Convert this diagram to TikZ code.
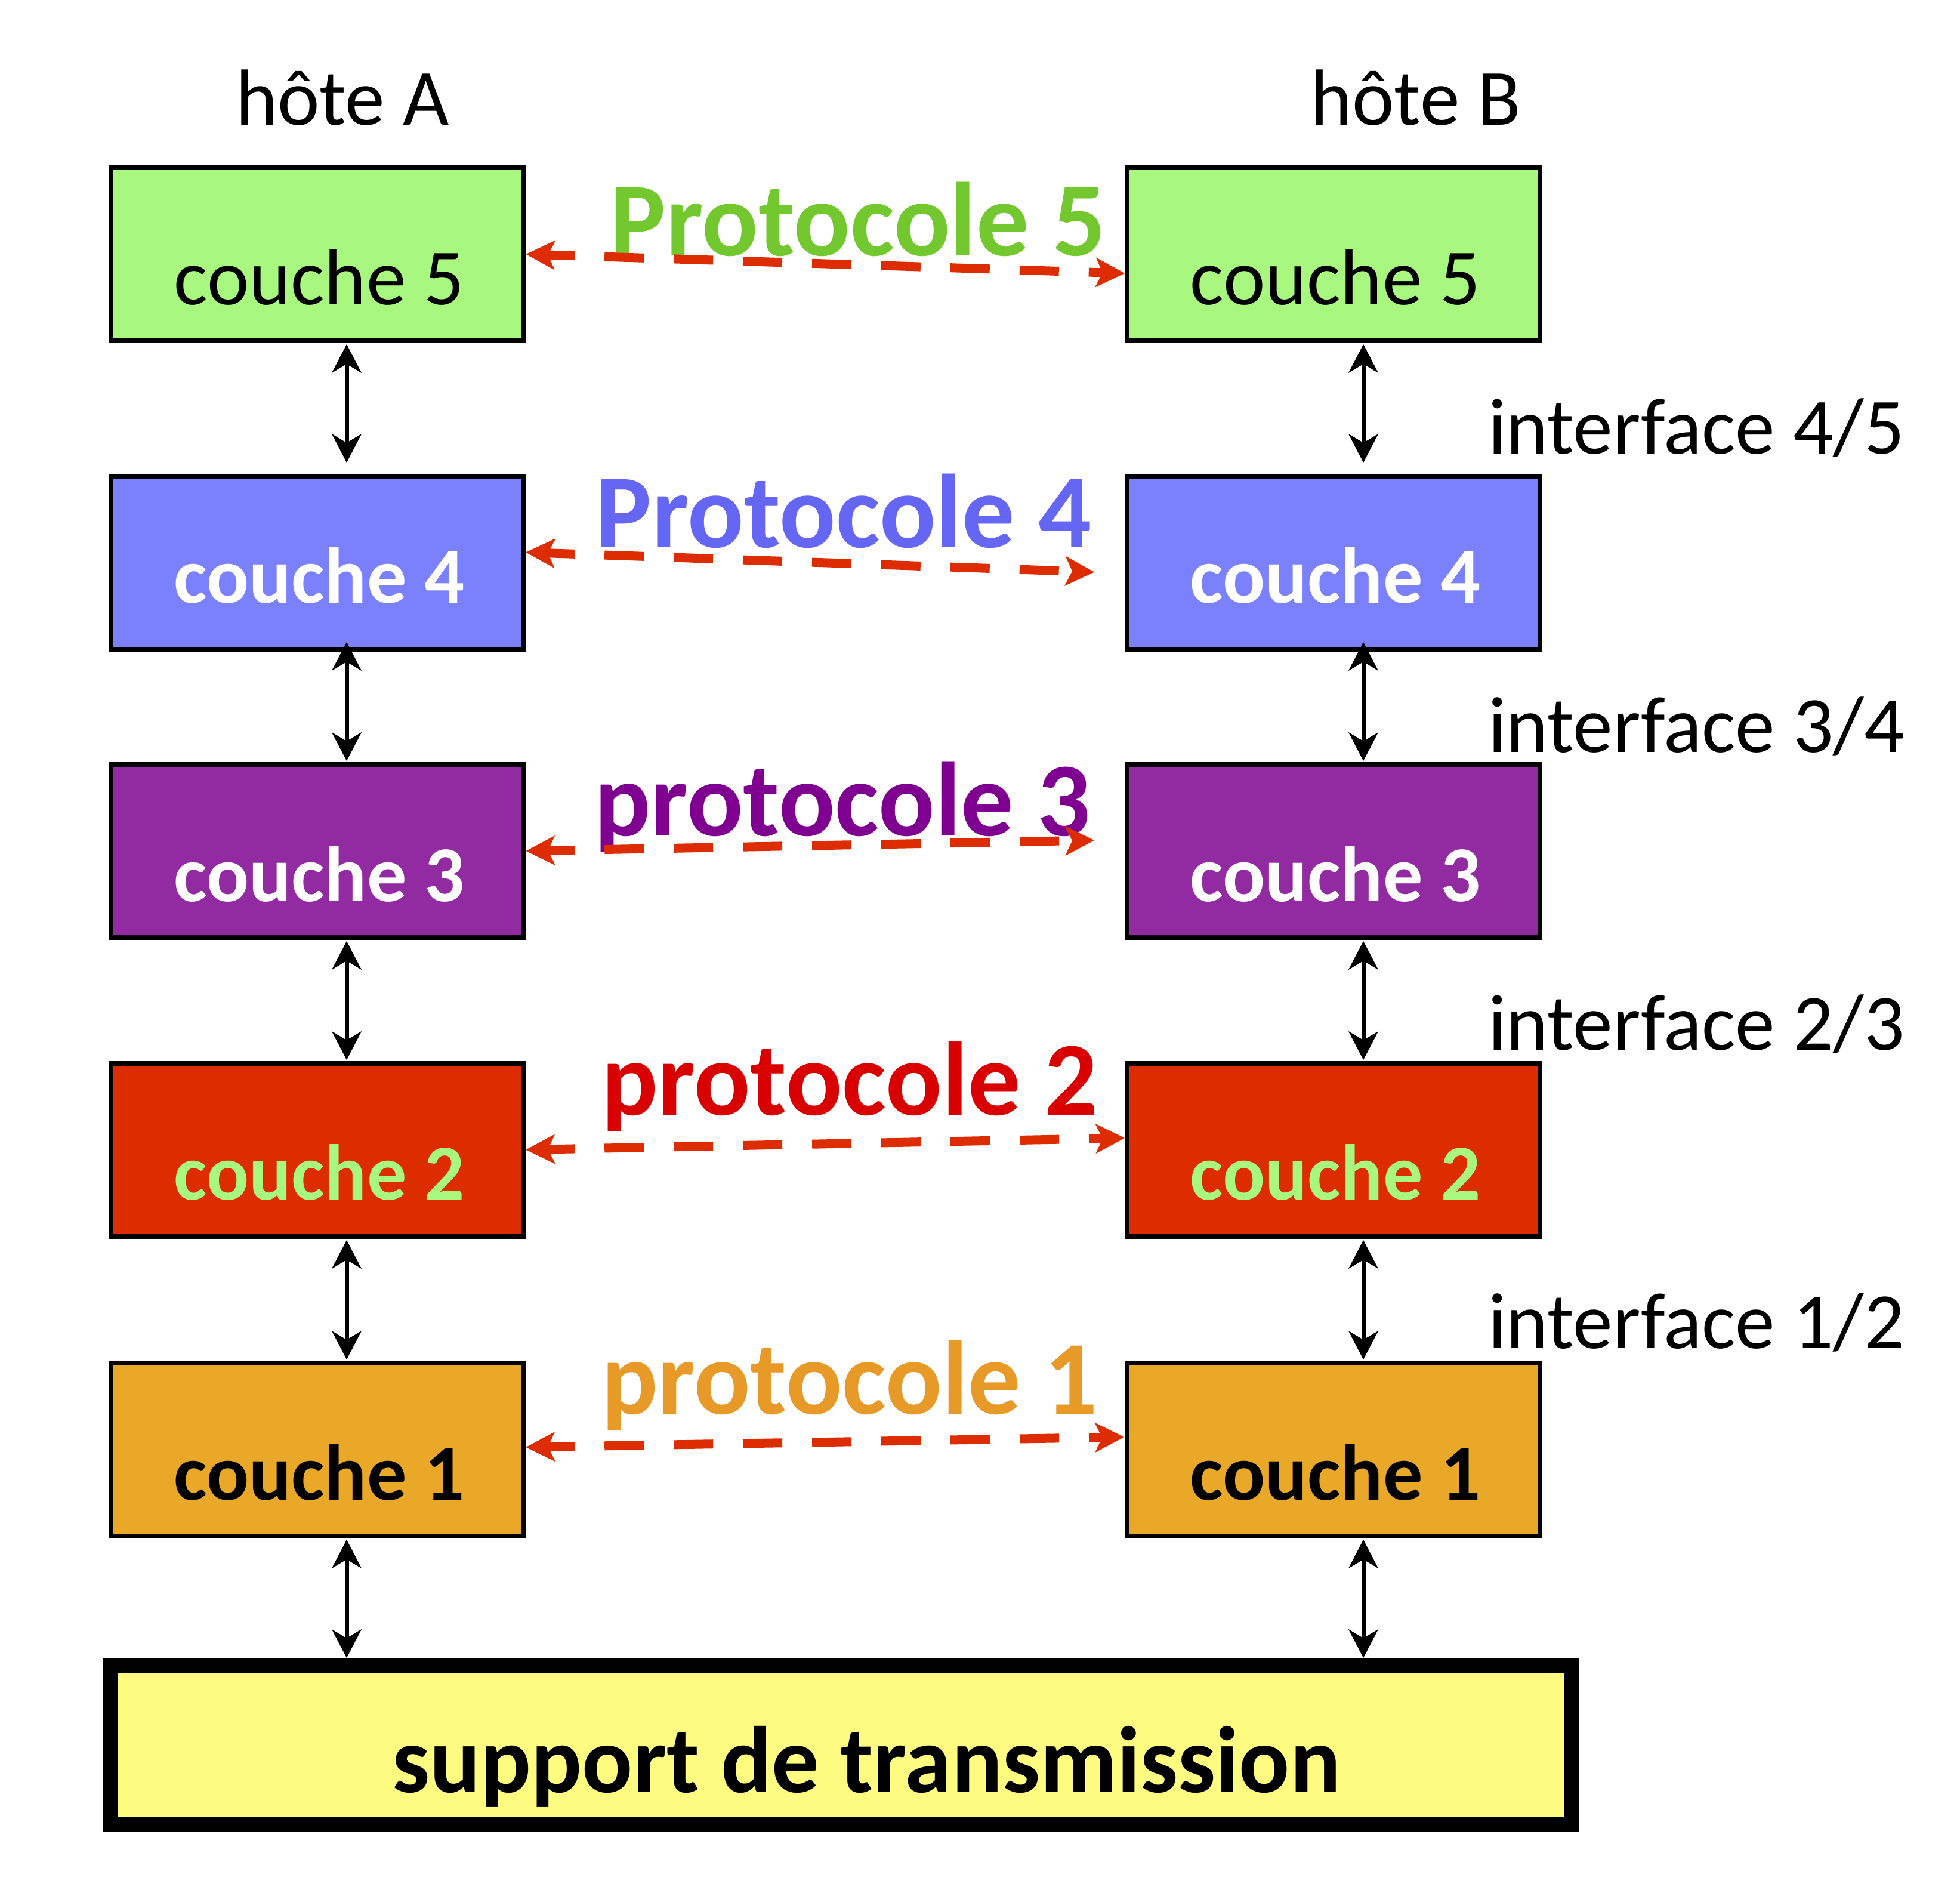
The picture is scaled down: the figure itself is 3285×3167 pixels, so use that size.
\documentclass[tikz,border=0pt]{standalone}
\usepackage{fontspec}
\setmainfont{Carlito}
\usetikzlibrary{arrows.meta}
\definecolor{fgreen}{RGB}{168,248,128}
\definecolor{fblue}{RGB}{123,128,252}
\definecolor{fpurple}{RGB}{146,43,162}
\definecolor{fred}{RGB}{221,44,0}
\definecolor{forange}{RGB}{234,168,40}
\definecolor{fyellow}{RGB}{253,252,128}
\definecolor{tgreen}{RGB}{114,200,46}
\definecolor{tblue}{RGB}{102,102,245}
\definecolor{tpurple}{RGB}{127,0,144}
\definecolor{tred}{RGB}{216,0,0}
\definecolor{torange}{RGB}{232,154,40}
\definecolor{pred}{RGB}{221,44,0}
\tikzset{
  box/.style={draw=black, line width=8pt, minimum width=691.5pt, minimum height=290pt, inner sep=0pt, outer sep=4pt},
  lbl/.style={anchor=base, inner sep=0pt, font=\fontsize{133.5pt}{160pt}\selectfont},
  lblb/.style={anchor=base, inner sep=0pt, font=\fontsize{132.5pt}{160pt}\selectfont\bfseries},
  ilbl/.style={anchor=base west, inner sep=0pt, font=\fontsize{133.5pt}{160pt}\selectfont},
  proto/.style={anchor=base, inner sep=0pt, font=\fontsize{176pt}{210pt}\selectfont\bfseries},
  vtip/.tip={Stealth[length=48pt,width=50pt,inset=15pt,line width=1pt]},
  rtip/.tip={Stealth[length=49pt,width=50pt,inset=12pt,line width=1pt]},
  vlink/.style={draw=black, line width=7pt, vtip-vtip},
  plink/.style={draw=pred, line width=15pt, dash pattern=on 66pt off 50pt, dash phase=21pt, rtip-rtip}
}
\begin{document}
\begin{tikzpicture}[x=1pt,y=-1pt]
\useasboundingbox[fill=white] (0,0) rectangle (3285,3167);

% host labels
\node[lbl] (hA) at (574,209) {hôte A};
\node[lbl] (hB) at (2373,209) {hôte B};

% left column boxes
\node[box, fill=fgreen]  (L5) at (531.75,426) {};
\node[box, fill=fblue]   (L4) at (531.75,943.25) {};
\node[box, fill=fpurple] (L3) at (531.75,1426) {};
\node[box, fill=fred]    (L2) at (531.75,1926.5) {};
\node[box, fill=forange] (L1) at (531.75,2429) {};
% right column boxes
\node[box, fill=fgreen]  (R5) at (2235,426) {};
\node[box, fill=fblue]   (R4) at (2235,943.25) {};
\node[box, fill=fpurple] (R3) at (2235,1426) {};
\node[box, fill=fred]    (R2) at (2235,1926.5) {};
\node[box, fill=forange] (R1) at (2235,2429) {};

% box texts
\node[lbl, text=black]  (tL5) at (535,510) {couche 5};
\node[lblb, text=white] (tL4) at (535,1010) {couche 4};
\node[lblb, text=white] (tL3) at (535,1510) {couche 3};
\node[lblb, text=fgreen] (tL2) at (535,2010.5) {couche 2};
\node[lblb, text=black] (tL1) at (535,2513) {couche 1};
\node[lbl, text=black]  (tR5) at (2238,510) {couche 5};
\node[lblb, text=white] (tR4) at (2238,1010) {couche 4};
\node[lblb, text=white] (tR3) at (2238,1510) {couche 3};
\node[lblb, text=fgreen] (tR2) at (2238,2010.5) {couche 2};
\node[lblb, text=black] (tR1) at (2238,2513) {couche 1};

% support
\node[draw=black, fill=fyellow, line width=25pt, minimum width=2449pt, minimum height=267pt, inner sep=0pt] (S) at (1410,2924) {};
\node[anchor=base, inner sep=0pt, font=\fontsize{158.5pt}{190pt}\selectfont\bfseries] (tS) at (1452,3003) {support de transmission};

% interface labels
\node[ilbl] (i45) at (2494,760) {interface 4/5};
\node[ilbl] (i34) at (2494,1260) {interface 3/4};
\node[ilbl] (i23) at (2494,1759) {interface 2/3};
\node[ilbl] (i12) at (2494,2259) {interface 1/2};

% protocol labels
\node[proto, text=tgreen]  (p5) at (1438,428) {Protocole 5};
\node[proto, text=tblue]   (p4) at (1414,917) {Protocole 4};
\node[proto, text=tpurple] (p3) at (1412,1400) {protocole 3};
\node[proto, text=tred]    (p2) at (1424,1868) {protocole 2};
\node[proto, text=torange] (p1) at (1424,2369) {protocole 1};

% vertical interface arrows
\coordinate (a5t) at (581,577);   \coordinate (a5b) at (581,775);
\coordinate (a4t) at (581,1076);  \coordinate (a4b) at (581,1275);
\coordinate (a3t) at (581,1577);  \coordinate (a3b) at (581,1776);
\coordinate (a2t) at (581,2078);  \coordinate (a2b) at (581,2278);
\coordinate (a1t) at (581,2580);  \coordinate (a1b) at (581,2778);
\coordinate (b5t) at (2285,577);  \coordinate (b5b) at (2285,775);
\coordinate (b4t) at (2285,1076); \coordinate (b4b) at (2285,1275);
\coordinate (b3t) at (2285,1577); \coordinate (b3b) at (2285,1776);
\coordinate (b2t) at (2285,2078); \coordinate (b2b) at (2285,2278);
\coordinate (b1t) at (2285,2580); \coordinate (b1b) at (2285,2778);
\foreach \n in {5,4,3,2,1}{
  \draw[vlink] (a\n t) -- (a\n b);
  \draw[vlink] (b\n t) -- (b\n b);
}

% protocol arrows
\coordinate (q5) at (1885,458);
\coordinate (q4) at (1834,958.5);
\coordinate (q3) at (1834,1408);
\coordinate (q2) at (1885,1907);
\coordinate (q1) at (1884,2408);
\coordinate (s4) at (881.5,925.5);
\coordinate (s1) at (881.5,2425);
\draw[plink] (L5.east) -- (q5);
\draw[plink] (s4) -- (q4);
\draw[plink] (L3.east) -- (q3);
\draw[plink] (L2.east) -- (q2);
\draw[plink] (s1) -- (q1);
\end{tikzpicture}
\end{document}
